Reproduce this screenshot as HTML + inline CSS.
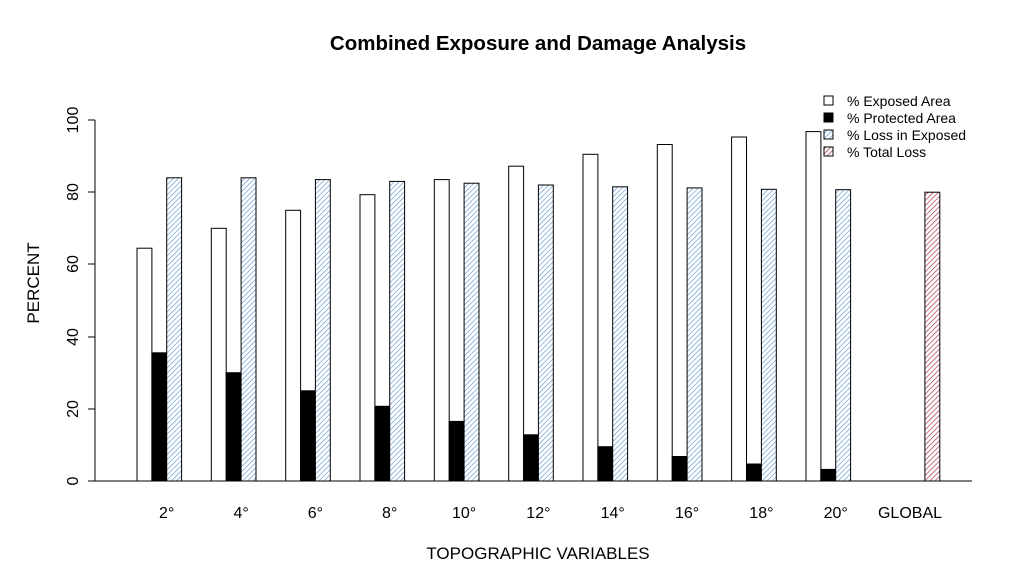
<!DOCTYPE html>
<html><head><meta charset="utf-8"><style>body{margin:0;background:#fff}svg{display:block}</style></head><body>
<svg width="1015" height="586" xmlns="http://www.w3.org/2000/svg" font-family="Liberation Sans, Arial, sans-serif">
<defs>
<pattern id="hb" patternUnits="userSpaceOnUse" width="3.6" height="3.6" patternTransform="rotate(45)">
<rect width="3.6" height="3.6" fill="#fff"/><line x1="0" y1="0" x2="0" y2="3.6" stroke="#5f94d0" stroke-width="1.3"/></pattern>
<pattern id="hr" patternUnits="userSpaceOnUse" width="3.6" height="3.6" patternTransform="rotate(45)">
<rect width="3.6" height="3.6" fill="#fff"/><line x1="0" y1="0" x2="0" y2="3.6" stroke="#a52a3a" stroke-width="1.3"/></pattern>
</defs>
<text x="538" y="50" font-size="20.5" font-weight="bold" text-anchor="middle">Combined Exposure and Damage Analysis</text>
<text x="538" y="559" font-size="17" text-anchor="middle">TOPOGRAPHIC VARIABLES</text>
<text transform="translate(39,283) rotate(-90)" font-size="17" text-anchor="middle">PERCENT</text>
<g stroke="#000" stroke-width="1">
<line x1="95" y1="120" x2="95" y2="481"/>
<line x1="95" y1="481" x2="972" y2="481"/>
<line x1="88" y1="481" x2="95" y2="481"/><line x1="88" y1="409" x2="95" y2="409"/>
<line x1="88" y1="337" x2="95" y2="337"/><line x1="88" y1="264" x2="95" y2="264"/>
<line x1="88" y1="192" x2="95" y2="192"/><line x1="88" y1="120" x2="95" y2="120"/>
</g>
<g font-size="16" text-anchor="middle">
<text transform="translate(78,481) rotate(-90)">0</text>
<text transform="translate(78,409) rotate(-90)">20</text>
<text transform="translate(78,337) rotate(-90)">40</text>
<text transform="translate(78,264) rotate(-90)">60</text>
<text transform="translate(78,192) rotate(-90)">80</text>
<text transform="translate(78,120) rotate(-90)">100</text>
</g>
<g stroke="#000" stroke-width="1">
<rect x="137.0" y="248.2" width="14.9" height="232.8" fill="#fff"/>
<rect x="151.9" y="352.8" width="14.9" height="128.2" fill="#000"/>
<rect x="166.7" y="177.8" width="14.9" height="303.2" fill="url(#hb)"/>
<rect x="211.3" y="228.3" width="14.9" height="252.7" fill="#fff"/>
<rect x="226.2" y="372.7" width="14.9" height="108.3" fill="#000"/>
<rect x="241.1" y="177.8" width="14.9" height="303.2" fill="url(#hb)"/>
<rect x="285.7" y="210.3" width="14.9" height="270.7" fill="#fff"/>
<rect x="300.5" y="390.8" width="14.9" height="90.2" fill="#000"/>
<rect x="315.4" y="179.6" width="14.9" height="301.4" fill="url(#hb)"/>
<rect x="360.0" y="194.7" width="14.9" height="286.3" fill="#fff"/>
<rect x="374.9" y="406.3" width="14.9" height="74.7" fill="#000"/>
<rect x="389.7" y="181.4" width="14.9" height="299.6" fill="url(#hb)"/>
<rect x="434.3" y="179.6" width="14.9" height="301.4" fill="#fff"/>
<rect x="449.2" y="421.4" width="14.9" height="59.6" fill="#000"/>
<rect x="464.1" y="183.2" width="14.9" height="297.8" fill="url(#hb)"/>
<rect x="508.7" y="166.2" width="14.9" height="314.8" fill="#fff"/>
<rect x="523.5" y="434.8" width="14.9" height="46.2" fill="#000"/>
<rect x="538.4" y="185.0" width="14.9" height="296.0" fill="url(#hb)"/>
<rect x="583.0" y="154.3" width="14.9" height="326.7" fill="#fff"/>
<rect x="597.9" y="446.7" width="14.9" height="34.3" fill="#000"/>
<rect x="612.7" y="186.8" width="14.9" height="294.2" fill="url(#hb)"/>
<rect x="657.3" y="144.5" width="14.9" height="336.5" fill="#fff"/>
<rect x="672.2" y="456.5" width="14.9" height="24.5" fill="#000"/>
<rect x="687.1" y="187.9" width="14.9" height="293.1" fill="url(#hb)"/>
<rect x="731.6" y="137.0" width="14.9" height="344.0" fill="#fff"/>
<rect x="746.5" y="464.0" width="14.9" height="17.0" fill="#000"/>
<rect x="761.4" y="189.3" width="14.9" height="291.7" fill="url(#hb)"/>
<rect x="806.0" y="131.6" width="14.9" height="349.4" fill="#fff"/>
<rect x="820.8" y="469.4" width="14.9" height="11.6" fill="#000"/>
<rect x="835.7" y="189.7" width="14.9" height="291.3" fill="url(#hb)"/>
<rect x="924.9" y="192.2" width="14.9" height="288.8" fill="url(#hr)"/>
</g>
<g font-size="16" text-anchor="middle">
<text x="166.7" y="518">2°</text>
<text x="241.1" y="518">4°</text>
<text x="315.4" y="518">6°</text>
<text x="389.7" y="518">8°</text>
<text x="464.1" y="518">10°</text>
<text x="538.4" y="518">12°</text>
<text x="612.7" y="518">14°</text>
<text x="687.1" y="518">16°</text>
<text x="761.4" y="518">18°</text>
<text x="835.7" y="518">20°</text>
<text x="910.0" y="518">GLOBAL</text>
</g>
<g font-size="14">
<rect x="824" y="96" width="9" height="9" fill="#fff" stroke="#000"/><text x="847" y="106">% Exposed Area</text>
<rect x="824" y="113" width="9" height="9" fill="#000" stroke="#000"/><text x="847" y="123">% Protected Area</text>
<rect x="824" y="130" width="9" height="9" fill="url(#hb)" stroke="#000"/><text x="847" y="140">% Loss in Exposed</text>
<rect x="824" y="147" width="9" height="9" fill="url(#hr)" stroke="#000"/><text x="847" y="157">% Total Loss</text>
</g>
</svg>
</body></html>
